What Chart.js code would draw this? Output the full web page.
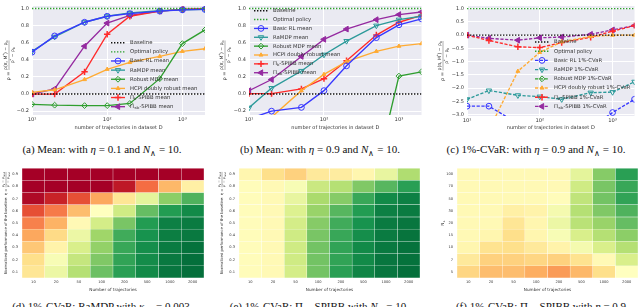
<!DOCTYPE html>
<html>
<head>
<meta charset="utf-8">
<script src="https://cdn.jsdelivr.net/npm/chart.js@4.4.1/dist/chart.umd.min.js"></script>
<style>
    body { margin: 0; background: #fff; width: 640px; height: 307px; overflow: hidden; position: relative; }
    canvas { position: absolute; }
    .cap {
        position: absolute; white-space: nowrap; transform: translateX(-50%);
        font-family: 'Liberation Serif', 'Times New Roman', serif; font-size: 11px; line-height: 13px; color: #111;
    }
    .cap sub { font-size: 7.5px; line-height: 0; }
</style>
</head>
<body>
<canvas id="chartA" width="212" height="135" style="left:0;top:0"></canvas>
<canvas id="chartB" width="212" height="135" style="left:215px;top:0"></canvas>
<canvas id="chartC" width="210" height="135" style="left:430px;top:0"></canvas>
<canvas id="heatD" width="212" height="135" style="left:0;top:162px"></canvas>
<canvas id="heatE" width="212" height="135" style="left:215px;top:162px"></canvas>
<canvas id="heatF" width="210" height="135" style="left:430px;top:162px"></canvas>

<div class="cap" style="left:102px;top:143px">(a) Mean: with <i>η</i> = 0.1 and <i>N</i><sub>∧</sub> = 10.</div>
<div class="cap" style="left:320px;top:143px">(b) Mean: with <i>η</i> = 0.9 and <i>N</i><sub>∧</sub> = 10.</div>
<div class="cap" style="left:536px;top:143px">(c) 1%-CVaR: with <i>η</i> = 0.9 and <i>N</i><sub>∧</sub> = 10.</div>
<div class="cap" style="left:101px;top:300px">(d) 1%-CVaR: RaMDP with <i>κ</i><sub>adj</sub> = 0.003</div>
<div class="cap" style="left:318px;top:300px">(e) 1%-CVaR: Π<sub>≤<i>b</i></sub>-SPIBB with <i>N</i><sub>∧</sub> = 10</div>
<div class="cap" style="left:541px;top:300px">(f) 1%-CVaR: Π<sub>≤<i>b</i></sub>-SPIBB with <i>η</i> = 0.9</div>

<script>
const trajectories = [10, 20, 50, 100, 200, 500, 1000, 2000];
const baselineLevel = 0;
const optimalLevel = 1;

// (a) mean performance, eta = 0.1
const meanLowBasicRL = [0.49, 0.68, 0.84, 0.91, 0.94, 0.97, 0.985, 0.99];
const meanLowRaMDP = [0.50, 0.67, 0.84, 0.91, 0.95, 0.975, 0.985, 0.99];
const meanLowRobust = [-0.12, -0.13, -0.135, -0.135, -0.11, 0.18, 0.59, 0.75];
const meanLowHCPI = [0.02, 0.05, 0.17, 0.29, 0.37, 0.44, 0.50, 0.53];
const meanLowSpibb = [0.0, 0.0, 0.26, 0.70, 0.91, 0.97, 0.99, 1.0];
const meanLowSpibbLeq = [0.0, 0.06, 0.56, 0.83, 0.92, 0.97, 0.99, 1.0];

// (b) mean performance, eta = 0.9
const meanHighBasicRL = [-0.29, -0.20, -0.156, 0.04, 0.33, 0.66, 0.81, 0.88];
const meanHighRaMDP = [-0.16, 0.07, 0.27, 0.46, 0.62, 0.80, 0.87, 0.91];
const meanHighRobust = [-2.5, -2.2, -1.9, -1.6, -1.3, -0.9, 0.21, 0.26];
const meanHighHCPI = [-1.2, -0.27, 0.04, 0.23, 0.38, 0.50, 0.56, 0.59];
const meanHighSpibb = [0.005, 0.005, 0.06, 0.18, 0.39, 0.69, 0.84, 0.92];
const meanHighSpibbLeq = [0.04, 0.17, 0.44, 0.64, 0.76, 0.87, 0.93, 0.96];

// (c) 1%-CVaR, eta = 0.9
const cvarBasicRL = [-2.68, -2.68, -3.33, -3.6, -3.7, -3.49, -2.92, -2.42];
const cvarRaMDP = [-2.42, -2.09, -2.27, -2.32, -2.42, -2.17, -2.15, -1.76];
const cvarRobust = [-8, -8, -8, -8, -8, -8, -7, -6];
const cvarHCPI = [-4.5, -3.58, -1.36, -0.65, -0.25, -0.05, 0.0, 0.0];
const cvarSpibb = [0.0, -0.2, -0.44, -0.47, -0.28, -0.08, 0.15, 0.36];
const cvarSpibbLeq = [0.0, -0.12, -0.19, -0.10, -0.07, 0.03, 0.2, 0.36];

const meanTicks = [-0.2, 0.0, 0.2, 0.4, 0.6, 0.8, 1.0];
const cvarTicks = [-3.0, -2.5, -2.0, -1.5, -1.0, -0.5, 0.0, 0.5, 1.0];
const logTicks = [10, 100, 1000];
const logTickLabels = ['10¹', '10²', '10³'];

// heatmaps: colour-scale position (0 = red, 1 = green), rows listed bottom to top
const trajectoryLabels = ['10', '20', '50', '100', '200', '500', '1000', '2000'];
const etaLabels = ['0.1', '0.2', '0.3', '0.4', '0.5', '0.6', '0.7', '0.8', '0.9'];
const nWedgeLabels = ['5', '7', '10', '15', '20', '30', '50', '70', '100'];

const ramdpCvarScore = [
    [0.42, 0.55, 0.67, 0.79, 0.88, 0.93, 0.97, 0.985],
    [0.40, 0.52, 0.64, 0.76, 0.87, 0.925, 0.965, 0.985],
    [0.35, 0.46, 0.60, 0.73, 0.86, 0.92, 0.96, 0.98],
    [0.29, 0.39, 0.55, 0.71, 0.85, 0.91, 0.955, 0.965],
    [0.23, 0.31, 0.48, 0.61, 0.77, 0.89, 0.95, 0.96],
    [0.15, 0.22, 0.33, 0.50, 0.62, 0.80, 0.89, 0.93],
    [0.02, 0.07, 0.15, 0.29, 0.42, 0.57, 0.74, 0.83],
    [0.0, 0.0, 0.0, 0.0, 0.05, 0.20, 0.32, 0.45],
    [0.0, 0.0, 0.0, 0.0, 0.0, 0.0, 0.0, 0.0],
];

const spibbEtaCvarScore = [
    [0.49, 0.48, 0.61, 0.78, 0.88, 0.94, 0.97, 0.985],
    [0.49, 0.48, 0.62, 0.78, 0.87, 0.93, 0.97, 0.98],
    [0.49, 0.48, 0.62, 0.78, 0.87, 0.93, 0.965, 0.98],
    [0.49, 0.48, 0.62, 0.77, 0.86, 0.92, 0.96, 0.975],
    [0.49, 0.48, 0.61, 0.75, 0.85, 0.91, 0.96, 0.97],
    [0.49, 0.48, 0.59, 0.72, 0.82, 0.89, 0.95, 0.96],
    [0.49, 0.48, 0.56, 0.69, 0.75, 0.86, 0.93, 0.95],
    [0.49, 0.48, 0.52, 0.63, 0.67, 0.76, 0.82, 0.88],
    [0.47, 0.40, 0.37, 0.43, 0.44, 0.47, 0.56, 0.68],
];

const spibbNCvarScore = [
    [0.38, 0.33, 0.33, 0.30, 0.27, 0.32, 0.40, 0.50],
    [0.43, 0.37, 0.37, 0.38, 0.37, 0.41, 0.48, 0.60],
    [0.47, 0.41, 0.40, 0.43, 0.46, 0.53, 0.60, 0.67],
    [0.48, 0.47, 0.40, 0.47, 0.52, 0.60, 0.67, 0.74],
    [0.48, 0.48, 0.42, 0.47, 0.55, 0.66, 0.72, 0.80],
    [0.48, 0.48, 0.45, 0.46, 0.53, 0.67, 0.76, 0.83],
    [0.48, 0.48, 0.48, 0.48, 0.49, 0.65, 0.78, 0.87],
    [0.48, 0.48, 0.48, 0.48, 0.48, 0.62, 0.77, 0.86],
    [0.48, 0.48, 0.48, 0.48, 0.48, 0.57, 0.75, 0.88],
];

const methodStyles = [
    { name: 'Basic RL', color: '#3838ff', pointStyle: 'circle', rotation: 0, radius: 2.9, filled: false },
    { name: 'RaMDP', color: '#2c9a9a', pointStyle: 'triangle', rotation: 180, radius: 3.1, filled: false },
    { name: 'Robust MDP', color: '#2f9e2f', pointStyle: 'rectRot', rotation: 0, radius: 2.9, filled: false },
    { name: 'HCPI doubly robust', color: '#ffab33', pointStyle: 'triangle', rotation: 0, radius: 2.2, filled: true },
    { name: 'Π_{b}-SPIBB', color: '#ff2a2a', pointStyle: 'cross', rotation: 0, radius: 3.2, filled: true },
    { name: 'Π_{≤b}-SPIBB', color: '#952aa0', pointStyle: 'triangle', rotation: -90, radius: 3.3, filled: true },
];

const FONT = "'DejaVu Sans', sans-serif";
const TEXT_COLOR = '#333';

// text with _{sub} and ^{sup} parts, drawn left to right, returns width
const drawRich = (ctx, text, x, y, size, measureOnly) => {
    const re = /([_^])\{([^}]*)\}/g;
    let cursor = x;
    let last = 0;
    let match;
    const piece = (str, fontSize, dy) => {
        if (!str) {
            return;
        }
        ctx.font = `${fontSize}px ${FONT}`;
        if (!measureOnly) {
            ctx.fillText(str, cursor, y + dy);
        }
        cursor += ctx.measureText(str).width;
    };
    while ((match = re.exec(text))) {
        piece(text.slice(last, match.index), size, 0);
        piece(match[2], size * 0.7, match[1] === '_' ? size * 0.3 : -size * 0.4);
        last = re.lastIndex;
    }
    piece(text.slice(last), size, 0);
    return cursor - x;
};

Chart.register({
    id: 'plotBg',
    beforeDraw(chart, args, opts) {
        if (!opts.color) {
            return;
        }
        const { ctx, chartArea } = chart;
        ctx.save();
        ctx.fillStyle = opts.color;
        ctx.fillRect(chartArea.left, chartArea.top, chartArea.width, chartArea.height);
        ctx.restore();
    },
});

Chart.register({
    id: 'fracTitle',
    afterDraw(chart, args, opts) {
        if (opts.x === undefined) {
            return;
        }
        const { ctx, chartArea } = chart;
        const size = opts.size;
        const fracSize = opts.fracSize || size;
        ctx.save();
        ctx.fillStyle = TEXT_COLOR;
        ctx.textBaseline = 'middle';
        ctx.textAlign = 'left';
        ctx.translate(opts.x, (chartArea.top + chartArea.bottom) / 2);
        ctx.rotate(-Math.PI / 2);
        const prefixWidth = drawRich(ctx, opts.prefix, 0, 0, size, true);
        const numWidth = opts.num ? drawRich(ctx, opts.num, 0, 0, fracSize, true) : 0;
        const denWidth = opts.den ? drawRich(ctx, opts.den, 0, 0, fracSize, true) : 0;
        const fracWidth = Math.max(numWidth, denWidth);
        const start = -(prefixWidth + fracWidth) / 2;
        drawRich(ctx, opts.prefix, start, 0, size, false);
        if (opts.num) {
            const fx = start + prefixWidth;
            drawRich(ctx, opts.num, fx + (fracWidth - numWidth) / 2, -fracSize * 0.75, fracSize, false);
            drawRich(ctx, opts.den, fx + (fracWidth - denWidth) / 2, fracSize * 0.8, fracSize, false);
            ctx.strokeStyle = TEXT_COLOR;
            ctx.lineWidth = 0.4;
            ctx.beginPath();
            ctx.moveTo(fx, 0);
            ctx.lineTo(fx + fracWidth, 0);
            ctx.stroke();
        }
        ctx.restore();
    },
});

Chart.register({
    id: 'insideLegend',
    afterDatasetsDraw(chart, args, opts) {
        if (opts.x === undefined) {
            return;
        }
        const ctx = chart.ctx;
        ctx.save();
        ctx.textBaseline = 'middle';
        ctx.textAlign = 'left';
        chart.data.datasets.forEach((dataset, index) => {
            const y = opts.y + index * opts.step;
            ctx.strokeStyle = dataset.borderColor;
            ctx.lineWidth = dataset.borderWidth;
            ctx.setLineDash(dataset.borderDash || []);
            ctx.beginPath();
            ctx.moveTo(opts.x, y);
            ctx.lineTo(opts.x + opts.lineLength, y);
            ctx.stroke();
            ctx.setLineDash([]);
            if (dataset.pointRadius > 0) {
                ctx.fillStyle = dataset.pointBackgroundColor;
                ctx.strokeStyle = dataset.borderColor;
                ctx.lineWidth = dataset.pointBorderWidth;
                Chart.helpers.drawPoint(ctx, {
                    pointStyle: dataset.pointStyle,
                    rotation: dataset.pointRotation,
                    radius: dataset.pointRadius,
                    borderWidth: dataset.pointBorderWidth,
                }, opts.x + opts.lineLength / 2, y);
            }
            ctx.fillStyle = TEXT_COLOR;
            drawRich(ctx, dataset.label, opts.x + opts.lineLength + opts.gap, y, opts.size, false);
        });
        ctx.restore();
    },
});

const toPoints = (values) => trajectories.map((x, i) => ({ x, y: values[i] }));

const levelDataset = (label, level, color) => ({
    label,
    data: toPoints(trajectories.map(() => level)),
    borderColor: color,
    borderWidth: 1.4,
    borderDash: [1.4, 1.6],
    pointRadius: 0,
});

const makeLineChart = (canvasId, seriesList, suffix, cfg) => {
    const datasets = [
        levelDataset('Baseline', baselineLevel, '#111111'),
        levelDataset('Optimal policy', optimalLevel, '#2ca02c'),
    ];
    methodStyles.forEach((style, index) => {
        datasets.push({
            label: `${style.name} ${suffix}`,
            data: toPoints(seriesList[index]),
            borderColor: style.color,
            borderWidth: 1.35,
            borderDash: cfg.dashed ? [3.2, 1.6] : [],
            pointStyle: style.pointStyle,
            pointRotation: style.rotation,
            pointRadius: style.radius,
            pointBorderWidth: style.pointStyle === 'cross' ? 1.5 : 1,
            pointBackgroundColor: style.filled ? style.color : 'rgba(0,0,0,0)',
            pointBorderColor: style.color,
        });
    });

    return new Chart(document.getElementById(canvasId), {
        type: 'line',
        data: { datasets },
        options: {
            responsive: false,
            animation: false,
            devicePixelRatio: 1,
            events: [],
            layout: { padding: { left: 0, right: cfg.padRight, top: 2, bottom: 0 } },
            plugins: {
                legend: { display: false },
                tooltip: { enabled: false },
                plotBg: { color: '#eaeaf2' },
                fracTitle: {
                    x: cfg.titleX,
                    prefix: 'ρ = ',
                    num: 'ρ(π, M^{*}) − ρ_{b}',
                    den: 'ρ^{*} − ρ_{b}',
                    size: 5,
                    fracSize: 4.6,
                },
                insideLegend: { ...cfg.legend, lineLength: 14, gap: 5, size: 5.3 },
            },
            scales: {
                x: {
                    type: 'logarithmic',
                    min: 10,
                    max: 2000,
                    afterBuildTicks: (scale) => {
                        scale.ticks = logTicks.map((value) => ({ value }));
                    },
                    afterFit: (scale) => {
                        scale.height = cfg.xHeight;
                    },
                    ticks: {
                        callback: (value) => logTickLabels[logTicks.indexOf(value)],
                        font: { family: FONT, size: 5.2 },
                        color: TEXT_COLOR,
                        padding: 2,
                        maxRotation: 0,
                    },
                    grid: { color: '#ffffff', lineWidth: 1, drawTicks: false },
                    border: { display: false },
                    title: {
                        display: true,
                        text: 'number of trajectories in dataset D',
                        font: { family: FONT, size: 5 },
                        color: TEXT_COLOR,
                        padding: { top: 0, bottom: 4 },
                    },
                },
                y: {
                    min: cfg.yMin,
                    max: cfg.yMax,
                    afterBuildTicks: (scale) => {
                        scale.ticks = cfg.yTicks.map((value) => ({ value }));
                    },
                    afterFit: (scale) => {
                        scale.width = cfg.yWidth;
                    },
                    ticks: {
                        callback: (value) => value.toFixed(1).replace('-', '−'),
                        font: { family: FONT, size: 5 },
                        color: TEXT_COLOR,
                        padding: 3,
                    },
                    grid: { color: '#ffffff', lineWidth: 1, drawTicks: false },
                    border: { display: false },
                },
            },
        },
    });
};

makeLineChart('chartA',
    [meanLowBasicRL, meanLowRaMDP, meanLowRobust, meanLowHCPI, meanLowSpibb, meanLowSpibbLeq],
    'mean',
    {
        yMin: -0.245, yMax: 1.03, yTicks: meanTicks, yWidth: 32, xHeight: 20, padRight: 7,
        titleX: 9, legend: { x: 111, y: 42.7, step: 9.14 },
    });

makeLineChart('chartB',
    [meanHighBasicRL, meanHighRaMDP, meanHighRobust, meanHighHCPI, meanHighSpibb, meanHighSpibbLeq],
    'mean',
    {
        yMin: -0.245, yMax: 1.03, yTicks: meanTicks, yWidth: 34, xHeight: 20, padRight: 5,
        titleX: 10, legend: { x: 39, y: 10.7, step: 8.86 },
    });

makeLineChart('chartC',
    [cvarBasicRL, cvarRaMDP, cvarRobust, cvarHCPI, cvarSpibb, cvarSpibbLeq],
    '1%-CVaR',
    {
        yMin: -3.05, yMax: 1.1, yTicks: cvarTicks, yWidth: 37, xHeight: 19, padRight: 2,
        titleX: 13, legend: { x: 105, y: 42, step: 9.2 }, dashed: true,
    });

// RdYlGn colour map
const rdYlGnStops = ['#a50026', '#d73027', '#f46d43', '#fdae61', '#fee08b', '#ffffbf',
    '#d9ef8b', '#a6d96a', '#66bd63', '#1a9850', '#006837'];

const hexToRgb = (hex) => [1, 3, 5].map((i) => parseInt(hex.slice(i, i + 2), 16));

const rdYlGn = (t) => {
    const clamped = Math.min(1, Math.max(0, t));
    const pos = clamped * (rdYlGnStops.length - 1);
    const i = Math.min(Math.floor(pos), rdYlGnStops.length - 2);
    const f = pos - i;
    const a = hexToRgb(rdYlGnStops[i]);
    const b = hexToRgb(rdYlGnStops[i + 1]);
    const rgb = a.map((c, k) => Math.round(c + (b[k] - c) * f));
    return `rgb(${rgb.join(',')})`;
};

const makeHeatmap = (canvasId, scores, rowLabels, cfg) => {
    const datasets = scores.map((row, rowIndex) => ({
        label: rowLabels[rowIndex],
        data: row.map(() => 1),
        backgroundColor: row.map(rdYlGn),
        borderColor: 'rgba(255,255,255,0.18)',
        borderWidth: 0.5,
        borderSkipped: false,
        barPercentage: 1,
        categoryPercentage: 1,
    }));

    return new Chart(document.getElementById(canvasId), {
        type: 'bar',
        data: { labels: trajectoryLabels, datasets },
        options: {
            responsive: false,
            animation: false,
            devicePixelRatio: 1,
            events: [],
            layout: { padding: { left: 0, right: cfg.padRight, top: 6, bottom: 0 } },
            plugins: {
                legend: { display: false },
                tooltip: { enabled: false },
                fracTitle: { x: cfg.titleX, size: cfg.titleSize, fracSize: cfg.titleSize * 0.85, ...cfg.title },
            },
            scales: {
                x: {
                    stacked: true,
                    afterFit: (scale) => {
                        scale.height = 19;
                    },
                    ticks: {
                        font: { family: FONT, size: 3.6 },
                        color: TEXT_COLOR,
                        padding: 2,
                        maxRotation: 0,
                        autoSkip: false,
                    },
                    grid: { display: false, drawTicks: false },
                    border: { display: false },
                    title: {
                        display: true,
                        text: 'Number of trajectories',
                        font: { family: FONT, size: 4.2 },
                        color: TEXT_COLOR,
                        padding: { top: 0, bottom: 5 },
                    },
                },
                y: {
                    stacked: true,
                    min: 0,
                    max: rowLabels.length,
                    afterBuildTicks: (scale) => {
                        scale.ticks = rowLabels.map((label, i) => ({ value: i + 0.5 }));
                    },
                    afterFit: (scale) => {
                        scale.width = cfg.yWidth;
                    },
                    ticks: {
                        callback: (value) => rowLabels[Math.floor(value)],
                        font: { family: FONT, size: 3.6 },
                        color: TEXT_COLOR,
                        padding: 4,
                    },
                    grid: { display: false, drawTicks: false },
                    border: { display: false },
                },
            },
        },
    });
};

const etaTitle = {
    prefix: 'Normalized performance of the baseline: η = ',
    num: 'ρ_{b} − ρ_{rand}',
    den: 'ρ^{*} − ρ_{rand}',
};

makeHeatmap('heatD', ramdpCvarScore, etaLabels, {
    yWidth: 22, padRight: 8, titleX: 6, titleSize: 3.8, title: etaTitle,
});

makeHeatmap('heatE', spibbEtaCvarScore, etaLabels, {
    yWidth: 24, padRight: 7, titleX: 7, titleSize: 3.8, title: etaTitle,
});

makeHeatmap('heatF', spibbNCvarScore, nWedgeLabels, {
    yWidth: 27, padRight: 2, titleX: 13, titleSize: 4.2, title: { prefix: 'N_{∧}' },
});
</script>
</body>
</html>
